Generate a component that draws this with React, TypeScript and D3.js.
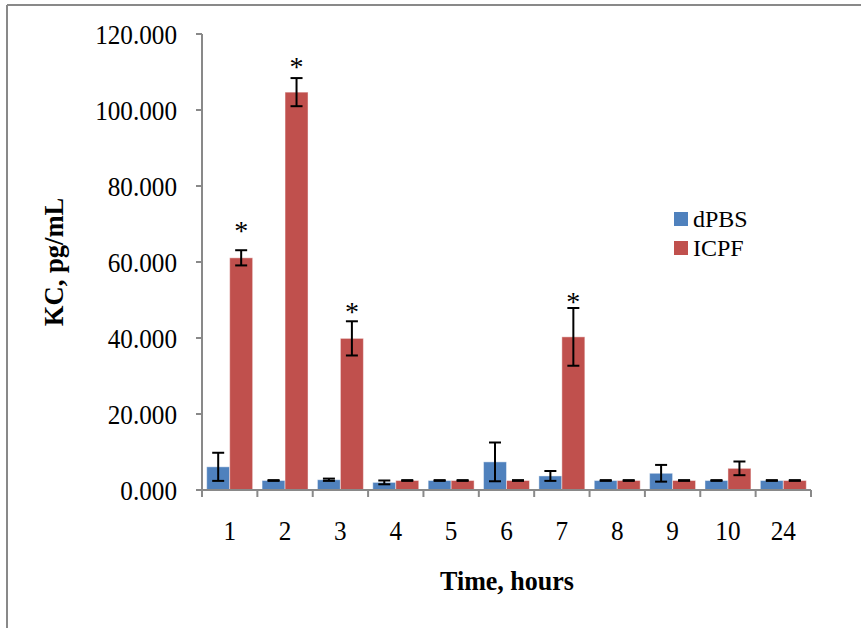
import React from "react";
import * as d3 from "d3";

const categories = ["1", "2", "3", "4", "5", "6", "7", "8", "9", "10", "24"];
const seriesNames = ["dPBS", "ICPF"];
const dpbsValues = [6.1, 2.5, 2.7, 2.0, 2.5, 7.4, 3.7, 2.5, 4.4, 2.5, 2.5];
const dpbsErrors = [3.7, 0.1, 0.3, 0.5, 0.1, 5.1, 1.3, 0.1, 2.2, 0.1, 0.1];
const icpfValues = [61.1, 104.7, 39.9, 2.5, 2.5, 2.5, 40.3, 2.5, 2.5, 5.7, 2.5];
const icpfErrors = [2.0, 3.7, 4.5, 0.1, 0.1, 0.1, 7.6, 0.1, 0.1, 1.8, 0.1];
const asteriskIndex = [0, 1, 2, 6];
const asteriskLevels = [69.1, 112.3, 47.9, 50.5];
const yTicks = [0, 20, 40, 60, 80, 100, 120];
const colors = ["#4F81BD", "#C0504D"];

export default function App() {
  const W = 861, H = 628;
  const x = d3.scaleBand<string>().domain(categories).range([202, 811]).padding(0);
  const y = d3.scaleLinear().domain([0, 120]).range([490, 34]);
  const step = x.step();
  const groupW = step * 0.83;
  const barW = groupW / 2;
  const fmt = d3.format(".3f");
  const axisColor = "#898989";
  const serif = "'Liberation Serif', 'Times New Roman', serif";
  const sx = 0.9;

  const series = [
    { values: dpbsValues, errors: dpbsErrors },
    { values: icpfValues, errors: icpfErrors },
  ];

  return (
    <svg width={W} height={H} style={{ position: "absolute", left: 0, top: 0, background: "#fff" }} fontFamily={serif}>
      <rect x={0} y={0} width={W} height={H} fill="#fff" />
      {/* outer frame */}
      <line x1={7} y1={5} x2={W} y2={5} stroke={axisColor} strokeWidth={2} />
      <line x1={7} y1={5} x2={7} y2={H} stroke={axisColor} strokeWidth={2} />

      {/* y ticks */}
      {yTicks.map((t) => (
        <g key={t}>
          <line x1={196} x2={202} y1={y(t)} y2={y(t)} stroke={axisColor} strokeWidth={2} />
          <text transform={`translate(177,${y(t) + 9.5}) scale(${sx},1)`} textAnchor="end" fontSize={28} fill="#000">
            {fmt(t)}
          </text>
        </g>
      ))}

      {/* bars */}
      {series.map((s, si) =>
        categories.map((c, i) => {
          const bx = (x(c) as number) + (step - groupW) / 2 + si * barW;
          const v = s.values[i];
          return (
            <rect
              key={`b${si}-${i}`}
              x={bx}
              y={y(v)}
              width={barW}
              height={y(0) - y(v)}
              fill={colors[si]}
              stroke="#fff"
              strokeOpacity={0.45}
              strokeWidth={1}
            />
          );
        })
      )}

      {/* error bars */}
      {series.map((s, si) =>
        categories.map((c, i) => {
          const cx = (x(c) as number) + (step - groupW) / 2 + si * barW + barW / 2;
          const v = s.values[i];
          const e = s.errors[i];
          const yt = y(v + e);
          const yb = y(v - e);
          return (
            <g key={`e${si}-${i}`} stroke="#000" strokeWidth={2}>
              <line x1={cx} x2={cx} y1={yt} y2={yb} />
              <line x1={cx - 6} x2={cx + 6} y1={yt} y2={yt} />
              <line x1={cx - 6} x2={cx + 6} y1={yb} y2={yb} />
            </g>
          );
        })
      )}

      {/* asterisks */}
      {asteriskIndex.map((ci, k) => {
        const cx = (x(categories[ci]) as number) + (step - groupW) / 2 + barW + barW / 2;
        return (
          <text key={`a${k}`} x={cx} y={y(asteriskLevels[k]) + 13} textAnchor="middle" fontSize={28} fill="#000">
            *
          </text>
        );
      })}

      {/* x axis */}
      <line x1={202} x2={811} y1={y(0)} y2={y(0)} stroke={axisColor} strokeWidth={2} />
      <line x1={202} x2={202} y1={y(120)} y2={y(0)} stroke={axisColor} strokeWidth={2} />
      {categories.map((c, i) => (
        <line key={`t${i}`} x1={(x(c) as number)} x2={(x(c) as number)} y1={y(0)} y2={y(0) + 7} stroke={axisColor} strokeWidth={2} />
      ))}
      <line x1={811} x2={811} y1={y(0)} y2={y(0) + 7} stroke={axisColor} strokeWidth={2} />
      {categories.map((c) => (
        <text key={`l${c}`} transform={`translate(${(x(c) as number) + step / 2},540) scale(${sx},1)`} textAnchor="middle" fontSize={28} fill="#000">
          {c}
        </text>
      ))}

      {/* axis titles */}
      <text transform={`translate(507,590) scale(0.93,1)`} textAnchor="middle" fontSize={28} fontWeight="bold" fill="#000">
        Time, hours
      </text>
      <text transform={`translate(63,262) rotate(-90) scale(0.95,1)`} textAnchor="middle" fontSize={28} fontWeight="bold" fill="#000">
        KC, pg/mL
      </text>

      {/* legend */}
      {seriesNames.map((n, i) => (
        <g key={n}>
          <rect x={674} y={212 + i * 29} width={14} height={14} fill={colors[i]} />
          <text x={693} y={227 + i * 29} fontSize={24} fill="#000">
            {n}
          </text>
        </g>
      ))}
    </svg>
  );
}
